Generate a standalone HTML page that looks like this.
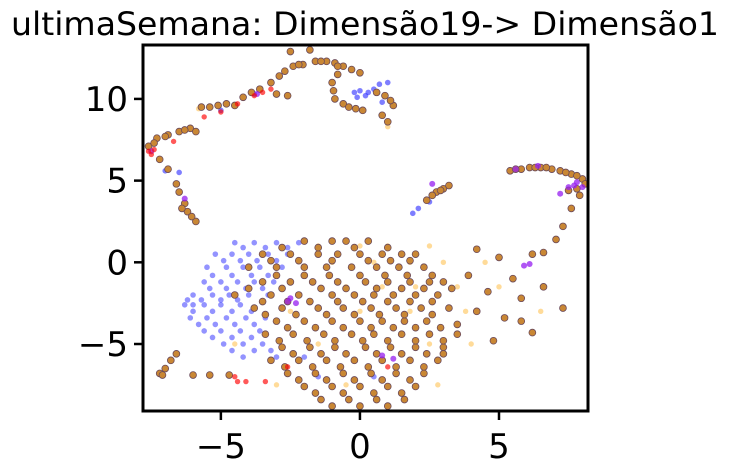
<!DOCTYPE html>
<html><head><meta charset="utf-8">
<style>
body{margin:0;background:#fff;}
svg{display:block;font-family:"DejaVu Sans","Liberation Sans",sans-serif;}
</style></head>
<body>
<svg width="731" height="474" viewBox="0 0 731 474">
<text x="365" y="35" text-anchor="middle" font-size="32" textLength="708" lengthAdjust="spacingAndGlyphs" fill="#000">ultimaSemana: Dimensão19-&gt; Dimensão1</text>
<g id="plot"></g>
<g id="axes"></g>
</svg>
<script>
const xTicks=[-5,0,5];
const yTicks=[-5,0,5,10];
const brownPts=[[-7.6,7.1],[-7.3,7.6],[-6.9,7.8],[-6.5,8.0],[-6.1,8.2],[-5.9,8.0],[-5.4,9.5],[-4.8,9.7],[-4.2,10.1],[-3.6,10.6],[-3.2,11.0],[-2.9,11.4],[-2.7,11.7],[-2.4,12.0],[-2.05,12.1],[-1.6,12.3],[-1.2,12.3],[-0.9,12.2],[-0.6,12.0],[-0.3,11.8],[0,11.6],[-2.5,12.9],[-1.8,13.0],[-1.0,11.0],[-0.9,10.0],[-0.6,9.7],[-0.15,9.4],[0.6,10.4],[0.9,10.2],[1.2,9.6],[0.8,9.0],[1.0,8.6],[-2.6,10.2],[-3.0,10.3],[-4.5,9.6],[-5.7,9.5],
[-7.4,7.3],[-7.0,7.7],[-6.3,8.1],[-5.1,9.6],[-3.9,10.4],[-2.2,12.1],[-1.4,12.3],[-0.8,11.5],[-0.95,10.5],[-0.4,9.5],[0.1,9.3],[1.1,9.9],[-0.8,12.0],
[-7.2,6.3],[-6.9,5.7],[-6.6,4.8],[-6.5,4.3],[-6.3,3.6],[-6.2,3.1],[-5.9,2.5],[-6.05,2.8],[-6.4,3.3],
[5.4,5.6],[5.8,5.7],[6.1,5.8],[6.5,5.8],[6.9,5.7],[7.2,5.6],[7.6,5.4],[8.0,5.1],[8.1,4.8],[7.8,4.5],[7.9,4.1],[7.6,3.3],[7.3,2.2],[7.05,1.4],[6.6,0.6],[5.6,5.7],[6.3,5.8],[6.7,5.8],[7.4,5.5],[7.8,5.3],[7.5,4.4],
[2.4,3.8],[2.75,4.3],[3.0,4.5],[3.2,4.7],[2.6,4.1],[2.9,4.4],
[-7.2,-6.8],[-7.0,-6.5],[-6.8,-6.0],[-6.6,-5.6],[-6.0,-6.9],[-5.4,-6.9],[-4.7,-6.9],[-7.1,-6.9],
[4.2,0.8],[5.0,0.3],[6.2,0.5],[3.9,-0.8],[4.6,-1.8],[5.5,-1.0],[6.6,-1.5],[7.3,-2.8],[5.8,-2.2],[4.2,-3.0],[5.2,-3.4],[6.2,-4.3],[3.5,-3.8],[4.8,-4.8],[3.0,-5.6],[5.8,-3.6]];
const blobRowY=[1.3,0.5,-0.3,-1.2,-2.0,-2.8,-3.6,-4.4,-5.2,-6.0,-6.8,-7.6,-8.4];
const blobRowX=[[-2.0,-1.0,-0.5,0.3],[-3.5,-2.5,-1.5,-0.8,0,0.8,1.5,2.0],[-4,-3,-2,-1.2,-0.3,0.6,1.4,2.3],[-3.5,-2.5,-1.7,-0.8,0.2,1.0,1.8,2.5,3.0],[-4.5,-3.2,-2.2,-1.0,-0.2,0.5,1.2,2.0,2.8],[-3.8,-2.8,-1.5,-0.6,0.4,1.3,2.2,3.2],[-3,-2,-1,0,0.8,1.6,2.4],[-3.4,-2.4,-1.3,-0.3,0.5,1.5,2.5,3.5],[-2.8,-1.8,-0.9,0.2,1.1,2.0,3.0],[-3.2,-2.2,-1.2,-0.2,0.8,1.8,2.8],[-2.6,-1.6,-0.6,0.4,1.3,2.3],[-2.0,-1.0,0,1.0,2.0],[-1.4,-0.4,0.6,1.6]];
const blob2RowY=[0.9,0.1,-0.8,-1.6,-2.4,-3.2,-4.0,-4.8,-5.6,-6.4,-7.2,-8.0,-8.8];
const blob2RowX=[[-2.8,-1.5,-0.2,1.0],[-3.2,-2.2,-1.0,0.3,1.1,1.8],[-3.0,-2.0,-1.1,0,0.9,1.7,2.6],[-4.0,-2.8,-1.4,-0.5,0.6,1.5,2.3,3.3],[-3.5,-2.6,-1.8,-0.8,0.1,1.0,1.8,2.6],[-3.4,-2.3,-1.2,-0.2,0.7,1.6,2.6],[-2.6,-1.6,-0.6,0.4,1.2,2.0,2.9],[-2.9,-1.9,-0.9,0.1,1.0,2.0,3.0],[-2.4,-1.4,-0.5,0.6,1.5,2.4],[-2.7,-1.7,-0.7,0.3,1.3,2.3],[-2.2,-1.2,-0.2,0.8,1.8],[-1.6,-0.6,0.5,1.5],[-1.0,0.0,1.0]];
const blueRowY=[1.2,0.5,-0.3,-1.2,-2.0,-2.6,-3.4,-4.2,-5.0,-5.8,-7.0];
const blueRowX=[[-4.5,-3.8,-3.0,-2.2],[-5.2,-4.6,-4.0,-3.3,-2.6],[-5.5,-4.8,-4.2,-3.6,-2.8],[-5.6,-5.0,-4.4,-3.8,-3.1],[-6.0,-5.3,-4.7,-4.0,-3.3],[-6.3,-6.0,-5.6,-5.0,-4.3],[-6.1,-5.5,-4.8,-4.1,-3.4],[-5.6,-5.0,-4.3,-3.6],[-4.9,-4.2,-3.5],[-4.2,-3.0,-2.0],[-1.5,0.5]];
const blue2RowY=[0.9,0.1,-0.8,-1.6,-2.3,-3.0,-3.8,-4.6,-5.4];
const blue2RowX=[[-4.2,-3.4,-2.6],[-4.9,-4.3,-3.7,-3.0],[-5.3,-4.6,-3.9,-3.3],[-5.4,-4.8,-4.1,-3.5],[-6.2,-5.7,-5.0,-4.4],[-6.0,-5.3,-4.6,-3.9],[-5.8,-5.2,-4.5,-3.8],[-5.3,-4.6,-3.9],[-4.6,-3.8,-3.2]];
const bluePts=[[0,10.5],[0.2,10.2],[-0.2,10.4],[0.5,10.6],[1.0,11.0],[0.8,9.8],[-3.8,10.3],[-5.0,9.3],[-6.5,5.5],[-7.0,5.6],[2.1,3.3],[1.9,3.0],[2.5,3.7],[0.3,10.4],[0.7,10.9],[-0.1,10.1]];
const purplePts=[[-6.3,3.9],[-3.7,10.3],[5.9,-0.2],[6.1,-0.1],[7.5,4.6],[7.8,4.9],[8.0,4.6],[7.2,4.2],[2.6,4.8],[-2.5,-2.2],[-2.3,-2.5],[0.8,-5.7],[1.2,-5.9],[6.4,5.9],[5.6,5.7],[-7.5,6.8],[7.7,4.7],[-2.6,-2.4]];
const redPts=[[-7.5,6.6],[-7.4,6.9],[-6.7,7.4],[-5.6,8.9],[-5.0,9.2],[-4.4,9.7],[-3.8,10.2],[-3.2,10.6],[-4.5,-7.0],[-4.4,-7.3],[-4.1,-7.3],[-3.4,-7.3],[1.0,-6.4],[-2.6,-6.4],[-7.6,6.8],[-3.5,10.4]];
const lightRowY=[1.0,0,-1.5,-3.0,-5.0,-7.5];
const lightRowX=[[-1.5,0.0,1.0,2.5],[-1.0,0.5,1.8,3.0,4.5],[-0.5,0.8,2.0,3.5,5.0],[-2.5,0,1.8,3.8,6.5],[-4.5,-1.5,2.5,4.0],[-3.0,-0.5,2.8]];
const lightPts=[[1.0,8.3],[-5.8,9.4]];

const L=143,R=588,T=45,B=411;
const xMin=-7.8,xMax=8.2,yMin=-9.1,yMax=13.3;
const sx=v=>L+(v-xMin)/(xMax-xMin)*(R-L);
const sy=v=>B-(v-yMin)/(yMax-yMin)*(B-T);
const NS='http://www.w3.org/2000/svg';
const plot=document.getElementById('plot');
const axes=document.getElementById('axes');
function dot(x,y,r,fill,stroke,name){
  const c=document.createElementNS(NS,'circle');
  c.setAttribute('cx',sx(x));c.setAttribute('cy',sy(y));c.setAttribute('r',r);
  c.setAttribute('fill',fill);
  if(stroke){c.setAttribute('stroke',stroke);c.setAttribute('stroke-width',0.8);}
  
  
  plot.appendChild(c);
}
function rows(ys,xs,f){ys.forEach((y,i)=>xs[i].forEach(x=>f(x,y)));}
rows(lightRowY,lightRowX,(x,y)=>dot(x,y,2.7,'rgba(255,165,0,0.4)',null,'point-light-orange'));
lightPts.forEach(p=>dot(p[0],p[1],2.7,'rgba(255,165,0,0.4)',null,'point-light-orange'));
rows(blueRowY,blueRowX,(x,y)=>dot(x,y,2.8,'rgba(40,40,255,0.5)',null,'point-blue'));
rows(blue2RowY,blue2RowX,(x,y)=>dot(x,y,2.8,'rgba(40,40,255,0.5)',null,'point-blue'));
bluePts.forEach(p=>dot(p[0],p[1],2.8,'rgba(40,40,255,0.6)',null,'point-blue'));
rows(blobRowY,blobRowX,(x,y)=>dot(x,y,3.4,'#c98734','#6b4a5a','point-brown'));
rows(blob2RowY,blob2RowX,(x,y)=>dot(x,y,3.4,'#c98734','#6b4a5a','point-brown'));
brownPts.forEach(p=>dot(p[0],p[1],3.4,'#c98734','#6b4a5a','point-brown'));
purplePts.forEach(p=>dot(p[0],p[1],3,'rgba(150,30,240,0.75)',null,'point-purple'));
redPts.forEach(p=>dot(p[0],p[1],2.7,'rgba(255,0,0,0.65)',null,'point-red'));

const fr=document.createElementNS(NS,'rect');
fr.setAttribute('x',L);fr.setAttribute('y',T);fr.setAttribute('width',R-L);fr.setAttribute('height',B-T);
fr.setAttribute('fill','none');fr.setAttribute('stroke','#000');fr.setAttribute('stroke-width',3);


axes.appendChild(fr);
function line(x1,y1,x2,y2,name){
  const l=document.createElementNS(NS,'line');
  l.setAttribute('x1',x1);l.setAttribute('y1',y1);l.setAttribute('x2',x2);l.setAttribute('y2',y2);
  l.setAttribute('stroke','#000');l.setAttribute('stroke-width',2.5);
  
  
  axes.appendChild(l);
}
function txt(x,y,s,anchor,name){
  const t=document.createElementNS(NS,'text');
  t.setAttribute('x',x);t.setAttribute('y',y);t.setAttribute('text-anchor',anchor);
  t.setAttribute('font-size','34');t.textContent=s;
  
  
  axes.appendChild(t);
}
const fmt=v=>v<0?'\u2212'+Math.abs(v):String(v);
xTicks.forEach(v=>{const x=sx(v);line(x,B,x,B+9,'x-tick');txt(x,458,fmt(v),'middle','x-tick-label');});
yTicks.forEach(v=>{const y=sy(v);line(L-9,y,L,y,'y-tick');txt(128,y+12,fmt(v),'end','y-tick-label');});
</script>
</body></html>
